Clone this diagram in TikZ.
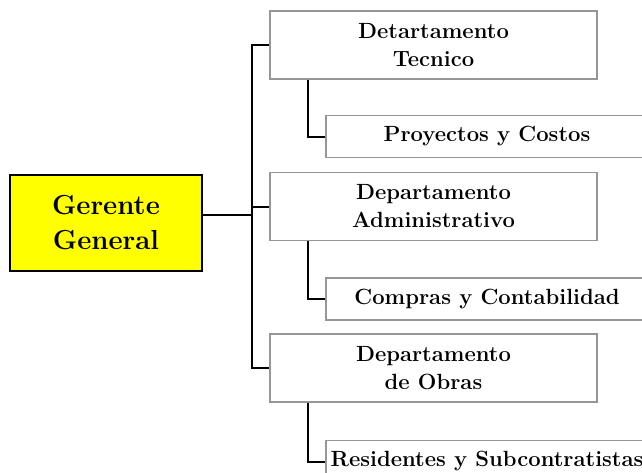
\documentclass[tikz,border=0pt]{standalone}
\usetikzlibrary{positioning,calc}
\definecolor{amarillo}{RGB}{255,255,0}
\definecolor{grisb}{RGB}{150,150,150}
\tikzset{
  jefe/.style={draw=black, line width=1.6pt, fill=amarillo, align=center, minimum width=192pt, minimum height=96pt, font=\fontsize{27.5}{35}\selectfont\bfseries},
  depto/.style={draw=grisb, line width=1.5pt, align=center, minimum width=327pt, minimum height=68pt, font=\fontsize{22}{28}\selectfont\bfseries},
  area/.style={draw=grisb, line width=1.5pt, align=center, inner xsep=1pt, minimum width=322pt, minimum height=42pt, font=\fontsize{22}{24}\selectfont\bfseries},
  lin/.style={line width=2pt, black},
}
\begin{document}
\begin{tikzpicture}[x=1pt, y=-1pt]
  \clip (0,0) rectangle (642,472);
  \node[jefe] (ger) at (106,223) {Gerente\\General};
  \node[depto] (tec) at (433.5,45) {Detartamento\\Tecnico};
  \node[depto, below=92pt of tec] (adm) {Departamento\\Administrativo};
  \node[depto, below=92pt of adm] (obr) {Departamento\\de Obras};
  \node[area, below right=35pt and 56pt of tec.south west] (pyc) {Proyectos y Costos};
  \node[area, below right=36pt and 56pt of adm.south west] (cyc) {Compras y Contabilidad};
  \node[area, below right=37pt and 56pt of obr.south west] (rys) {Residentes y Subcontratistas};
  % tronco
  \draw[lin] (tec.west) -- ++(-17,0) coordinate (tr) |- (obr.west);
  \draw[lin] (adm.west) -- (adm.west -| tr);
  \draw[lin] ([yshift=8pt]ger.east) -- ([yshift=8pt]ger.east -| tr);
  % areas
  \draw[lin] ([xshift=39pt]tec.south west) |- (pyc.west);
  \draw[lin] ([xshift=39pt]adm.south west) |- (cyc.west);
  \draw[lin] ([xshift=39pt]obr.south west) |- (rys.west);
\end{tikzpicture}
\end{document}
